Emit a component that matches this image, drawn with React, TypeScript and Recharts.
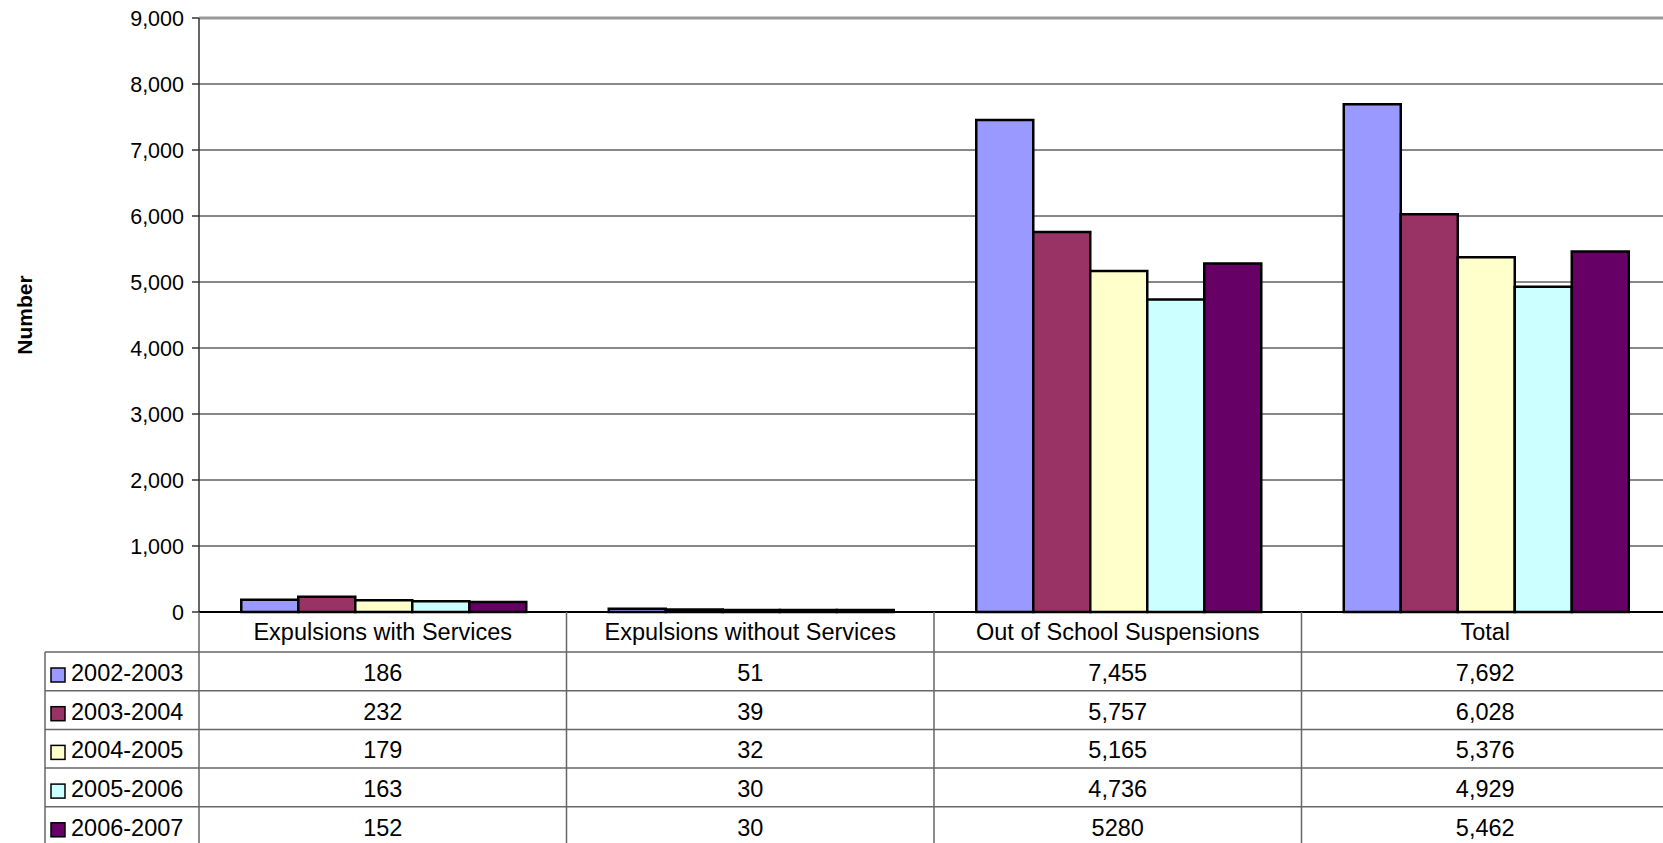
import React from 'react';
import { BarChart, Bar, XAxis, YAxis, CartesianGrid, ReferenceLine } from 'recharts';

// categories shown along the x axis / table header
const categories = [
    'Expulsions with Services',
    'Expulsions without Services',
    'Out of School Suspensions',
    'Total',
];

const years = ['2002-2003', '2003-2004', '2004-2005', '2005-2006', '2006-2007'];
const colors = ['#9999FF', '#993366', '#FFFFCC', '#CCFFFF', '#660066'];

const v2002 = [186, 51, 7455, 7692];
const v2003 = [232, 39, 5757, 6028];
const v2004 = [179, 32, 5165, 5376];
const v2005 = [163, 30, 4736, 4929];
const v2006 = [152, 30, 5280, 5462];
const seriesValues = [v2002, v2003, v2004, v2005, v2006];

const yTicks = [0, 1000, 2000, 3000, 4000, 5000, 6000, 7000, 8000, 9000];

// the source table prints this one cell without a thousands separator
const plainCell = { series: 4, category: 2 };

const data = categories.map((name, i) => {
    const row: any = { name };
    years.forEach((yr, s) => {
        row[yr] = seriesValues[s][i];
    });
    return row;
});

// layout
const CHART_W = 1700;
const CHART_H = 870;
const PLOT_TOP = 18;
const PLOT_BOTTOM = 612;
const PLOT_LEFT = 199;
const PLOT_RIGHT = 1669;
const HEADER_H = 40;
const ROW_H = 38.7;
const LEGEND_LEFT = 45;
const FONT = '"Liberation Sans", Arial, Helvetica, sans-serif';
const TABLE_LINE = '#666';
const TABLE_FONT = 23.5;

const rowTop = (r: number) => PLOT_BOTTOM + HEADER_H + r * ROW_H;

const fmtCell = (s: number, c: number) => {
    const v = seriesValues[s][c];
    if (s === plainCell.series && c === plainCell.category) return String(v);
    return v.toLocaleString('en-US');
};

const TableColumn = (props: any) => {
    const { x, index, payload } = props;
    const colW = (PLOT_RIGHT - PLOT_LEFT) / categories.length;
    const left = x - colW / 2;
    const right = x + colW / 2;
    return (
        <g>
            {index === 0 && (
                <g>
                    {years.map((yr, s) => (
                        <line key={`h${s}`} x1={LEGEND_LEFT} x2={PLOT_RIGHT} y1={rowTop(s)} y2={rowTop(s)} stroke={TABLE_LINE} strokeWidth={1.5} />
                    ))}
                    <line x1={LEGEND_LEFT} x2={PLOT_RIGHT} y1={rowTop(years.length)} y2={rowTop(years.length)} stroke={TABLE_LINE} strokeWidth={1.5} />
                    <line x1={LEGEND_LEFT} x2={LEGEND_LEFT} y1={rowTop(0)} y2={CHART_H} stroke={TABLE_LINE} strokeWidth={1.5} />
                    {years.map((yr, s) => (
                        <g key={`lg${s}`}>
                            <rect x={51} y={rowTop(s) + 16} width={14} height={14} fill={colors[s]} stroke="#000" strokeWidth={1.5} />
                            <text x={71} y={rowTop(s) + 29} fontSize={TABLE_FONT} fill="#000" fontFamily={FONT}>{yr}</text>
                        </g>
                    ))}
                </g>
            )}
            <line x1={left} x2={left} y1={PLOT_BOTTOM} y2={CHART_H} stroke={TABLE_LINE} strokeWidth={1.5} />
            {index === categories.length - 1 && (
                <line x1={right} x2={right} y1={PLOT_BOTTOM} y2={CHART_H} stroke={TABLE_LINE} strokeWidth={1.5} />
            )}
            <text x={x} y={PLOT_BOTTOM + 28} textAnchor="middle" fontSize={TABLE_FONT} fill="#000" fontFamily={FONT}>
                {payload.value}
            </text>
            {years.map((yr, s) => (
                <text key={`v${s}`} x={x} y={rowTop(s) + 29} textAnchor="middle" fontSize={TABLE_FONT} fill="#000" fontFamily={FONT}>
                    {fmtCell(s, index)}
                </text>
            ))}
        </g>
    );
};

const NumberLabel = (props: any) => {
    const vb = props.viewBox;
    const cx = vb.x + 24;
    const cy = vb.y + vb.height / 2;
    return (
        <text
            x={cx}
            y={cy}
            transform={`rotate(-90, ${cx}, ${cy})`}
            textAnchor="middle"
            dominantBaseline="central"
            fontSize={21}
            fontWeight="bold"
            fill="#000"
            fontFamily={FONT}
        >
            Number
        </text>
    );
};

export default function App() {
    return (
        <div
            style={{
                position: 'fixed',
                left: 0,
                top: 0,
                width: 1663,
                height: 843,
                overflow: 'hidden',
                background: '#fff',
                fontFamily: FONT,
            }}
        >
            <BarChart
                width={CHART_W}
                height={CHART_H}
                data={data}
                margin={{ top: PLOT_TOP, right: CHART_W - PLOT_RIGHT, bottom: 0, left: 0 }}
                barCategoryGap="11.5%"
                barGap={0}
            >
                <CartesianGrid vertical={false} stroke="#111" strokeWidth={1} />
                <ReferenceLine y={9000} stroke="#999" strokeWidth={3} />
                <YAxis
                    width={PLOT_LEFT}
                    domain={[0, 9000]}
                    ticks={yTicks}
                    interval={0}
                    tickFormatter={(v: number) => v.toLocaleString('en-US')}
                    tick={{ fill: '#000', fontSize: 21.5, fontFamily: FONT }}
                    tickSize={7}
                    tickMargin={8}
                    axisLine={{ stroke: '#333', strokeWidth: 1.5 }}
                    tickLine={{ stroke: '#333', strokeWidth: 1.5 }}
                    label={NumberLabel}
                />
                <XAxis
                    dataKey="name"
                    height={CHART_H - PLOT_BOTTOM}
                    interval={0}
                    tickLine={false}
                    axisLine={{ stroke: '#000', strokeWidth: 2 }}
                    tick={<TableColumn />}
                />
                {years.map((yr, s) => (
                    <Bar
                        key={yr}
                        dataKey={yr}
                        name={yr}
                        fill={colors[s]}
                        stroke="#000"
                        strokeWidth={2.5}
                        isAnimationActive={false}
                    />
                ))}
            </BarChart>
        </div>
    );
}
